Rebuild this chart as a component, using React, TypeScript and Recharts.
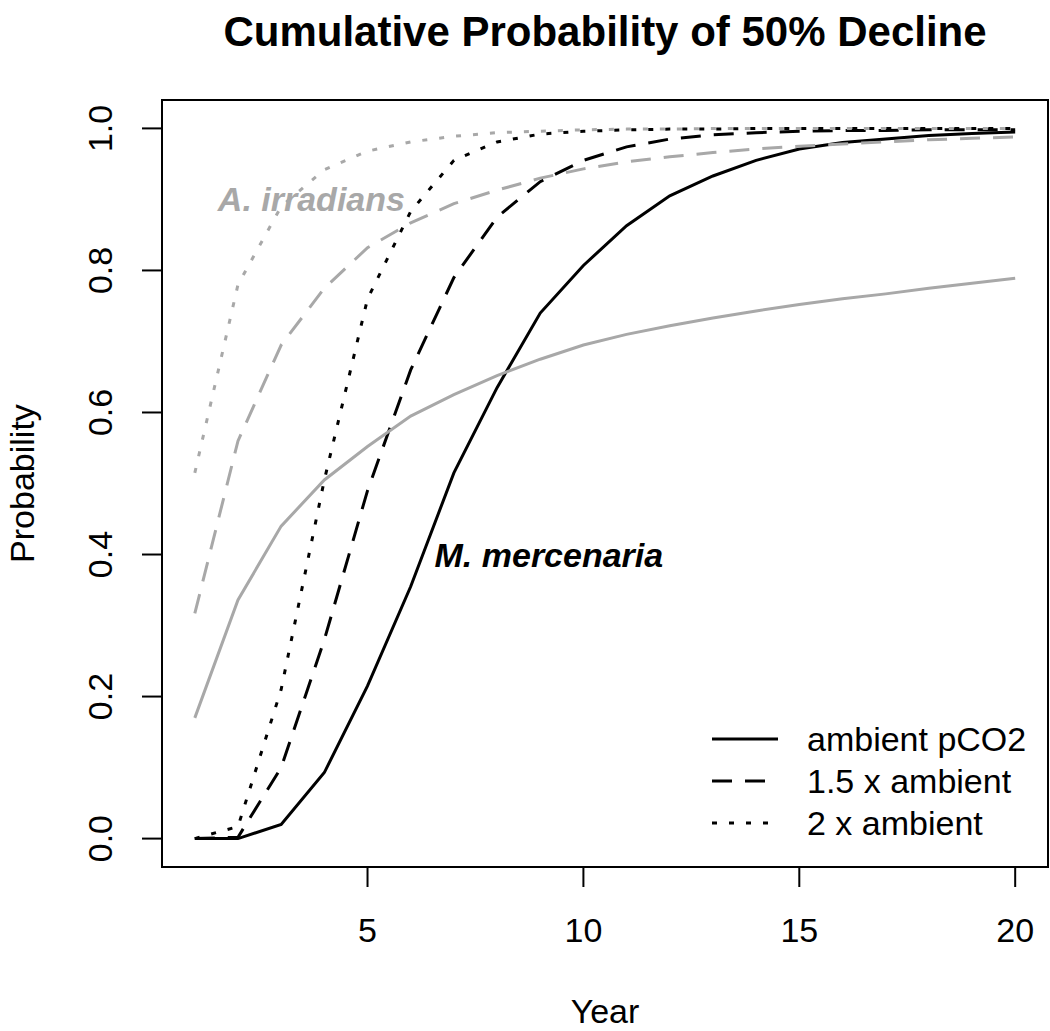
import React from "react";
import {
  LineChart,
  Line,
  XAxis,
  YAxis,
  ReferenceArea,
  ReferenceDot,
  Legend,
} from "recharts";

const years = [1, 2, 3, 4, 5, 6, 7, 8, 9, 10, 11, 12, 13, 14, 15, 16, 17, 18, 19, 20];

// M. mercenaria (black)
const mercAmbient = [0, 0, 0.02, 0.093, 0.215, 0.355, 0.515, 0.635, 0.74, 0.807, 0.863, 0.905, 0.933, 0.955, 0.971, 0.98, 0.985, 0.99, 0.993, 0.995];
const merc15 = [0, 0.002, 0.1, 0.28, 0.49, 0.66, 0.79, 0.875, 0.925, 0.955, 0.974, 0.985, 0.991, 0.994, 0.996, 0.997, 0.997, 0.998, 0.998, 0.998];
const merc2 = [0, 0.017, 0.21, 0.505, 0.76, 0.883, 0.955, 0.981, 0.992, 0.996, 0.998, 0.999, 0.999, 1, 1, 1, 1, 1, 1, 1];

// A. irradians (gray)
const irrAmbient = [0.17, 0.336, 0.44, 0.505, 0.552, 0.595, 0.625, 0.652, 0.675, 0.695, 0.71, 0.722, 0.733, 0.743, 0.752, 0.76, 0.767, 0.775, 0.782, 0.789];
const irr15 = [0.317, 0.56, 0.695, 0.775, 0.832, 0.867, 0.894, 0.913, 0.93, 0.943, 0.953, 0.96, 0.966, 0.971, 0.975, 0.978, 0.981, 0.984, 0.986, 0.988];
const irr2 = [0.515, 0.78, 0.89, 0.942, 0.968, 0.981, 0.989, 0.994, 0.996, 0.998, 0.999, 0.999, 1, 1, 1, 1, 1, 1, 1, 1];

const xTicks = [5, 10, 15, 20];
const yTicks = [0, 0.2, 0.4, 0.6, 0.8, 1.0];
const xDomain = [0.24, 20.76];
const yDomain = [-0.04, 1.04];

const legendLabels = ["ambient pCO2", "1.5 x ambient", "2 x ambient"];
const legendDashes = ["", "20 13", "5 12"];

const title = "Cumulative Probability of 50% Decline";
const speciesA = { label: "A. irradians", x: 3.7, y: 0.9 };
const speciesM = { label: "M. mercenaria", x: 9.2, y: 0.4 };

const data = years.map((yr, i) => ({
  year: yr,
  mercAmbient: mercAmbient[i],
  merc15: merc15[i],
  merc2: merc2[i],
  irrAmbient: irrAmbient[i],
  irr15: irr15[i],
  irr2: irr2[i],
}));

const FONT = "'Liberation Sans', Arial, Helvetica, sans-serif";
const BLACK = "#000000";
const GRAY = "#a8a8a8";

const XTick = (props: any) => {
  const { x, y, payload } = props;
  return (
    <text x={x} y={y} textAnchor="middle" dominantBaseline="central" fontFamily={FONT} fontSize={34} fill="#000">
      {payload.value}
    </text>
  );
};

const YTick = (props: any) => {
  const { x, y, payload } = props;
  return (
    <text
      x={x}
      y={y}
      transform={`rotate(-90 ${x} ${y})`}
      textAnchor="middle"
      dominantBaseline="central"
      fontFamily={FONT}
      fontSize={34}
      fill="#000"
    >
      {Number(payload.value).toFixed(1)}
    </text>
  );
};

const LegendContent = () => (
  <svg width={350} height={150} style={{ display: "block" }}>
    {legendLabels.map((lab, i) => {
      const y = 39 + i * 42;
      return (
        <g key={lab}>
          <line x1={12} x2={78} y1={y} y2={y} stroke={BLACK} strokeWidth={3} strokeDasharray={legendDashes[i] || undefined} />
          <text x={107} y={y} dominantBaseline="central" fontFamily={FONT} fontSize={34} fill="#000">
            {lab}
          </text>
        </g>
      );
    })}
  </svg>
);

const speciesLabel = (label: string, color: string) => (p: any) => (
  <text
    x={p.cx}
    y={p.cy}
    textAnchor="middle"
    dominantBaseline="central"
    fontFamily={FONT}
    fontSize={34}
    fontWeight="bold"
    fontStyle="italic"
    fill={color}
  >
    {label}
  </text>
);

export default function App() {
  return (
    <div style={{ position: "absolute", left: 0, top: 0, width: 1050, height: 1031, background: "#fff" }}>
      <div
        style={{
          position: "absolute",
          left: 162,
          width: 886,
          top: 11,
          textAlign: "center",
          fontFamily: FONT,
          fontWeight: "bold",
          fontSize: 42,
          lineHeight: "42px",
          color: "#000",
          whiteSpace: "nowrap",
        }}
      >
        {title}
      </div>
      <LineChart
        width={1050}
        height={1031}
        data={data}
        margin={{ top: 100, right: 2, left: 0, bottom: 0 }}
        style={{ position: "absolute", left: 0, top: 0 }}
      >
        <XAxis
          dataKey="year"
          type="number"
          domain={xDomain}
          ticks={xTicks}
          allowDataOverflow
          axisLine={false}
          tickLine={{ stroke: "#000", strokeWidth: 2 }}
          tickSize={20}
          tickMargin={43}
          height={164}
          tick={<XTick />}
          label={{
            content: (p: any) => {
              const vb = p.viewBox || {};
              return (
                <text
                  x={vb.x + vb.width / 2}
                  y={1011}
                  textAnchor="middle"
                  dominantBaseline="central"
                  fontFamily={FONT}
                  fontSize={34}
                  fill="#000"
                >
                  Year
                </text>
              );
            },
          }}
        />
        <YAxis
          type="number"
          domain={yDomain}
          ticks={yTicks}
          allowDataOverflow
          axisLine={false}
          tickLine={{ stroke: "#000", strokeWidth: 2 }}
          tickSize={20}
          tickMargin={42}
          width={162}
          tick={<YTick />}
          label={{
            content: (p: any) => {
              const vb = p.viewBox || {};
              const cy = vb.y + vb.height / 2;
              return (
                <text
                  x={22}
                  y={cy}
                  transform={`rotate(-90 22 ${cy})`}
                  textAnchor="middle"
                  dominantBaseline="central"
                  fontFamily={FONT}
                  fontSize={34}
                  fill="#000"
                >
                  Probability
                </text>
              );
            },
          }}
        />
        <ReferenceArea
          x1={xDomain[0]}
          x2={xDomain[1]}
          y1={yDomain[0]}
          y2={yDomain[1]}
          fill="none"
          stroke="#000"
          strokeWidth={2}
          ifOverflow="visible"
        />
        <Line dataKey="mercAmbient" stroke={BLACK} strokeWidth={3} dot={false} isAnimationActive={false} />
        <Line dataKey="merc15" stroke={BLACK} strokeWidth={3} strokeDasharray="20 13" dot={false} isAnimationActive={false} />
        <Line dataKey="merc2" stroke={BLACK} strokeWidth={3} strokeDasharray="5 12" dot={false} isAnimationActive={false} />
        <Line dataKey="irrAmbient" stroke={GRAY} strokeWidth={3} dot={false} isAnimationActive={false} />
        <Line dataKey="irr15" stroke={GRAY} strokeWidth={3} strokeDasharray="20 13" dot={false} isAnimationActive={false} />
        <Line dataKey="irr2" stroke={GRAY} strokeWidth={3} strokeDasharray="5 12" dot={false} isAnimationActive={false} />
        <ReferenceDot x={speciesA.x} y={speciesA.y} r={0} ifOverflow="visible" shape={speciesLabel(speciesA.label, GRAY)} />
        <ReferenceDot x={speciesM.x} y={speciesM.y} r={0} ifOverflow="visible" shape={speciesLabel(speciesM.label, BLACK)} />
        <Legend
          layout="vertical"
          align="center"
          verticalAlign="middle"
          content={<LegendContent />}
          wrapperStyle={{ left: 700, top: 700, width: 350, height: 150 }}
        />
      </LineChart>
    </div>
  );
}
